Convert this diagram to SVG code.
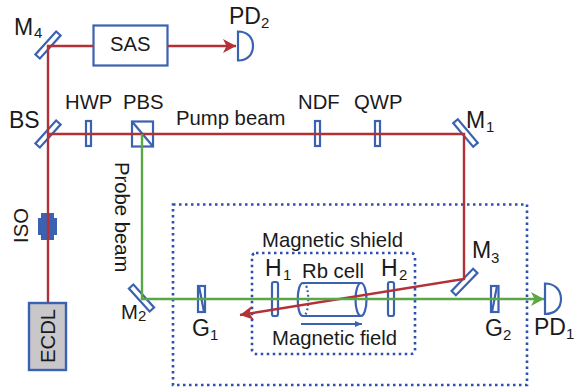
<svg xmlns="http://www.w3.org/2000/svg" width="574" height="390" viewBox="0 0 574 390">
<style>
text{font-family:"Liberation Sans",Arial,sans-serif;fill:#1a1a1a}
.s{font-size:20.300px}.l{font-size:23px}.sub{font-size:15px}
.o{fill:none;stroke:#3b62b0;stroke-width:2.200}
.w{fill:#fff;stroke:#3b62b0;stroke-width:2.200}
.r{fill:none;stroke:#b23036;stroke-width:2.400}
.g{fill:none;stroke:#5aa845;stroke-width:2.400}
.d{fill:none;stroke:#2f4fae;stroke-width:2.600;stroke-dasharray:2.500 3.500}
</style>
<defs>
<marker id="ar" markerUnits="userSpaceOnUse" markerWidth="16" markerHeight="16" refX="14" refY="8" orient="auto"><path d="M1 1L14 8L1 15L4.500 8Z" fill="#b23036"/></marker>
<marker id="ag" markerUnits="userSpaceOnUse" markerWidth="16" markerHeight="16" refX="14" refY="8" orient="auto"><path d="M1 1L14 8L1 15L4.500 8Z" fill="#5aa845"/></marker>
<marker id="ab" markerUnits="userSpaceOnUse" markerWidth="8" markerHeight="8" refX="7" refY="4" orient="auto"><path d="M0 1L7 4L0 7Z" fill="#3b62b0"/></marker>
</defs>
<g id="shields">
<rect class="d" x="173" y="204.500" width="354" height="180.500"/>
<rect class="d" x="252" y="253" width="163" height="101" rx="4"/>
</g>
<g id="ECDL"><rect x="29" y="303" width="37" height="67" fill="#c9c7c9" stroke="#3b62b0" stroke-width="2.400"/><text class="s" transform="translate(54.500 363) rotate(-90)">ECDL</text></g>
<g id="ISO"><path d="M38 218L41 218L41 213L54 213L54 218L57 218L57 235L54 235L54 240L41 240L41 235L38 235Z" fill="#3b62b0"/><text class="s" transform="translate(28 243) rotate(-90)">ISO</text></g>
<g id="M4"><rect class="w" x="-15.500" y="-3" width="31" height="6" transform="translate(48 45) rotate(-48)"/><text class="l" x="14" y="35">M</text><text class="sub" x="34" y="38">4</text></g>
<g id="BS"><rect class="w" x="-15.500" y="-3" width="31" height="6" transform="translate(48 134) rotate(-48)"/><text class="l" x="9" y="128">BS</text></g>
<g id="HWP"><rect class="w" x="86" y="121" width="5" height="25"/><text class="s" x="65" y="109">HWP</text></g>
<g id="PBS"><rect class="w" x="132" y="121.500" width="21" height="25"/><path class="o" d="M132 121.500L153 146.500"/><text class="s" x="123" y="109">PBS</text></g>
<g id="NDF"><rect class="w" x="315" y="121" width="5" height="25"/><text class="s" x="298" y="109">NDF</text></g>
<g id="QWP"><rect class="w" x="375" y="121" width="5" height="25"/><text class="s" x="354" y="109">QWP</text></g>
<g id="M1"><rect class="w" x="-15.500" y="-3" width="31" height="6" transform="translate(465.500 133) rotate(50)"/><text class="l" x="466" y="128">M</text><text class="sub" x="486" y="132">1</text></g>
<g id="SAS"><rect class="w" x="93.500" y="25.500" width="74" height="40"/><text class="s" x="110" y="51">SAS</text></g>
<g id="PD2"><path class="w" d="M238 31.500C248 31.500 253 38 253 46C253 54 248 60.500 238 60.500Z"/><text class="l" x="229" y="24">PD</text><text class="sub" x="261" y="28">2</text></g>
<g id="M2"><rect class="w" x="-15.500" y="-3" width="31" height="6" transform="translate(141.500 298) rotate(48)"/><text class="s" x="121" y="318.500">M</text><text class="sub" font-size="13" x="138" y="321">2</text></g>
<g id="G1"><rect class="w" x="198" y="286" width="7" height="26"/><path class="o" d="M199 286L204 312"/><text class="l" x="192" y="336">G</text><text class="sub" x="210" y="340">1</text></g>
<g id="H1"><rect class="w" x="272" y="282" width="6" height="34" rx="2"/><text class="l" x="265" y="276">H</text><text class="sub" x="283" y="280">1</text></g>
<g id="cell"><path class="o" d="M303 283L361 283M303 316L361 316M303 283C296 283 296 316 303 316"/><path class="o" stroke-dasharray="2 2.500" d="M303 283C310 283 310 316 303 316"/><ellipse class="o" cx="361" cy="299.500" rx="5.500" ry="16.500"/><text class="s" x="302" y="278">Rb cell</text></g>
<g id="H2"><rect class="w" x="388" y="282" width="6" height="34" rx="2"/><text class="l" x="381" y="276">H</text><text class="sub" x="399" y="280">2</text></g>
<g id="M3"><rect class="w" x="-15.500" y="-3" width="31" height="6" transform="translate(464.500 282) rotate(-46)"/><text class="l" x="472" y="258">M</text><text class="sub" x="491" y="263">3</text></g>
<g id="G2"><rect class="w" x="491" y="286" width="7.500" height="26"/><path class="o" d="M497 286L492 312"/><text class="l" x="485" y="336">G</text><text class="sub" x="503" y="340">2</text></g>
<g id="PD1"><path class="w" d="M545 283.500C555 283.500 561 290 561 299C561 308 555 314 545 314Z"/><text class="l" x="534" y="335">PD</text><text class="sub" x="566" y="339">1</text></g>
<g id="connectors">
<path class="r" d="M48 302V46H93M168 46H236" marker-end="url(#ar)"/>
<path class="r" d="M48 134H464V279L240 315" marker-end="url(#ar)"/>
<path class="g" d="M142 134V299H544" marker-end="url(#ag)"/>
<path fill="none" stroke="#3b62b0" stroke-width="2" d="M301 324H362" marker-end="url(#ab)"/>
</g>
<g id="labels">
<text class="s" x="176" y="125">Pump beam</text>
<text class="s" transform="translate(115 162) rotate(90)">Probe beam</text>
<text class="s" x="262" y="247">Magnetic shield</text>
<text class="s" x="272" y="345">Magnetic field</text>
</g>
</svg>
